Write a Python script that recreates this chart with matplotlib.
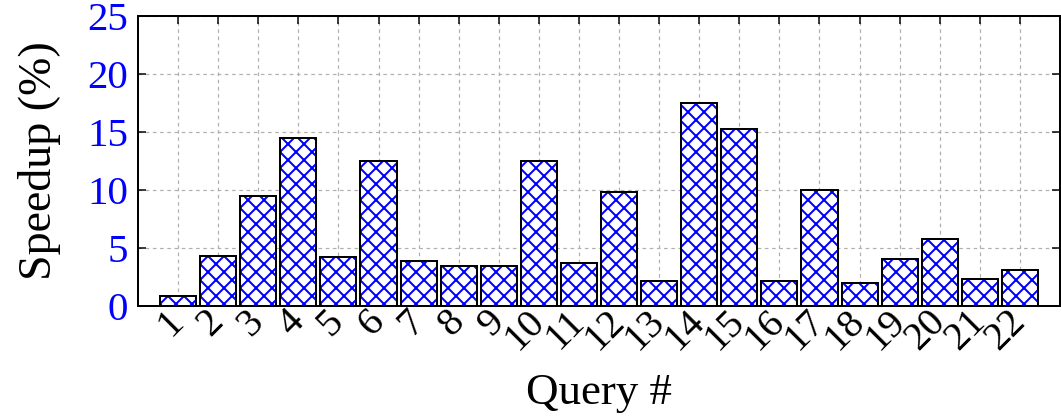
import numpy as np
import matplotlib
matplotlib.use('Agg')
import matplotlib.pyplot as plt
from matplotlib import transforms

plt.rcParams['font.family'] = ['Liberation Serif', 'DejaVu Serif']
plt.rcParams['hatch.linewidth'] = 1.5
plt.rcParams['hatch.color'] = 'blue'

# speedup per TPC-H query
queries = [str(i) for i in range(1, 23)]
speedup = [0.9, 4.33, 9.5, 14.5, 4.22, 12.5, 3.88, 3.47, 3.42, 12.5, 3.73,
           9.8, 2.18, 17.5, 15.25, 2.15, 10.0, 2.0, 4.02, 5.8, 2.3, 3.07]
yticks = [0, 5, 10, 15, 20, 25]

DPI = 96
pt = 72. / DPI  # pixel -> point

fig = plt.figure(figsize=(1061./DPI, 417./DPI), dpi=DPI)
ax = fig.add_axes([138/1061., 1-306/417., (1060-138)/1061., (306-16)/417.])

x = np.arange(1, len(queries)+1)
# hatch first (blue), then black outline on top
ax.bar(x, speedup, width=0.9, color='white', edgecolor='blue', linewidth=0,
       hatch='xx', zorder=2)
ax.bar(x, speedup, width=0.9, fill=False, edgecolor='black', linewidth=2*pt,
       zorder=3)

ax.set_xlim(0, 23)
ax.set_ylim(0, 25)
ax.set_xticks(x)
ax.set_xticklabels(queries, rotation=45, ha='right', va='center',
                   rotation_mode='anchor', fontsize=40*pt)
# nudge rotated labels so they sit under their ticks
shift = transforms.ScaledTranslation(7./DPI, 0, fig.dpi_scale_trans)
for lbl in ax.get_xticklabels():
    lbl.set_transform(lbl.get_transform() + shift)
ax.set_yticks(yticks)
ax.set_yticklabels([str(v) for v in yticks], fontsize=41*pt, color='blue')
ax.tick_params(direction='in', length=8*pt, width=1.5*pt, top=True, right=True)
ax.tick_params(axis='x', pad=10*pt)
ax.tick_params(axis='y', pad=10*pt)
for s in ax.spines.values():
    s.set_linewidth(2*pt)
ax.grid(True, color='#b0b0b0', linestyle=(0, (3, 3)), linewidth=1.2*pt, zorder=0)
ax.set_axisbelow(True)

ax.set_xlabel('Query #', fontsize=45*pt, labelpad=16*pt)
ax.set_ylabel('Speedup (%)', fontsize=46*pt, labelpad=26*pt)

fig.savefig('out.png', dpi=DPI)
